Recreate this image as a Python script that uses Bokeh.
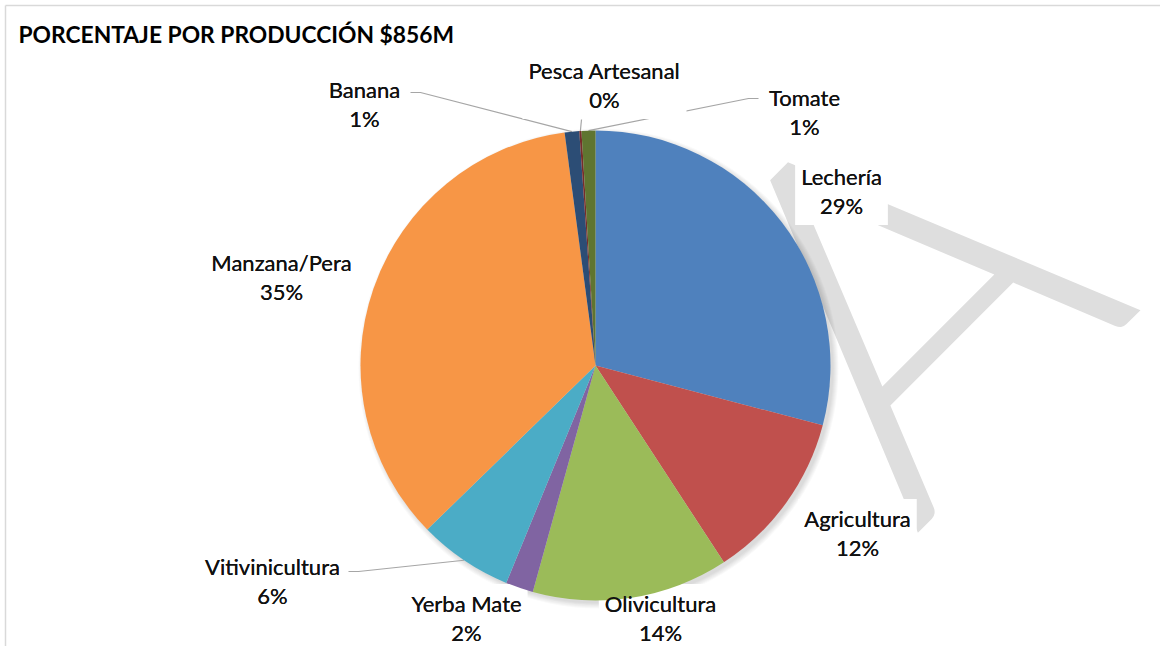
import math
from bokeh.plotting import figure
from bokeh.models import Range1d, ColumnDataSource
from bokeh.core.properties import value
from bokeh.embed import file_html
from bokeh.resources import INLINE

# ---------------- data ----------------
categories = ["Lechería", "Agricultura", "Olivicultura", "Yerba Mate",
              "Vitivinicultura", "Manzana/Pera", "Banana", "Pesca Artesanal", "Tomate"]
shares = [29.1, 11.7, 13.5, 1.9, 6.5, 35.2, 1.0, 0.15, 0.95]   # percent of $856M
colors = ["#4F81BD", "#C0504D", "#9BBB59", "#8064A2", "#4BACC6",
          "#F79646", "#2C4D75", "#772C2A", "#5F7530"]
title_text = "PORCENTAJE POR PRODUCCIÓN $856M"
watermark_text = "A"

# ---------------- layout (page pixel coordinates) ----------------
W, H = 1160, 646
REF_H = 662
CX, CY, R = 595, 365, 235
label_anchor = {  # baseline centre of the first label line
    "Lechería": (841, 185), "Agricultura": (857, 527), "Olivicultura": (660, 612),
    "Yerba Mate": (466, 612), "Vitivinicultura": (272, 575), "Manzana/Pera": (281, 271),
    "Banana": (364, 98), "Pesca Artesanal": (604, 79), "Tomate": (804, 106),
}
LINE_GAP = 28.5
LABEL_PX = 22
leader_start = {  # stub of the leader lines
    "Banana": [(410, 92), (420, 92)],
    "Pesca Artesanal": [(581, 119)],
    "Tomate": [(758, 98), (748, 98)],
    "Vitivinicultura": [(348, 571), (358, 571)],
}
FONT = "Lato"


def sy(y):
    return REF_H - y


p = figure(width=W, height=H, x_range=Range1d(0, W), y_range=Range1d(REF_H - H, REF_H),
           toolbar_location=None, output_backend="svg", min_border=0,
           x_axis_location=None, y_axis_location=None)
p.grid.visible = False
p.outline_line_color = None
p.background_fill_color = "white"
p.border_fill_color = "white"

# chart border (top and left edges)
p.segment(x0=[5, 5], y0=[sy(5), sy(5)], x1=[W, 5], y1=[sy(5), REF_H - H],
          line_color="#d9d9d9", line_width=1.5)

# watermark (single large rotated letter behind the chart)
p.text(x=[776], y=[sy(400)], text=[watermark_text], angle=math.pi / 4,
       text_align="left", text_baseline="alphabetic",
       text_font=value("Lato Light, Lato"), text_font_size="500px",
       text_color="#dedede")

# pie shadow
for k in range(6):
    p.circle(x=[CX + 3], y=[sy(CY + 3)], radius=R + k, fill_color="black",
             fill_alpha=0.025, line_color=None)

# pie geometry (clockwise from 12 o'clock)
total = sum(shares)
starts, ends, mids = [], [], []
cum = 0.0
for s in shares:
    a0 = cum / total * 2 * math.pi
    cum += s
    a1 = cum / total * 2 * math.pi
    starts.append(math.pi / 2 - a0)
    ends.append(math.pi / 2 - a1)
    mids.append((a0 + a1) / 2)

# leader lines
xs, ys = [], []
for cat, m in zip(categories, mids):
    if cat in leader_start:
        ex, ey = CX + R * math.sin(m), CY - R * math.cos(m)
        pts = leader_start[cat] + [(ex, ey)]
        xs.append([q[0] for q in pts])
        ys.append([sy(q[1]) for q in pts])
p.multi_line(xs=xs, ys=ys, line_color="#a6a6a6", line_width=1.2)

# data labels
lx, ly, lt = [], [], []
for cat, s in zip(categories, shares):
    ax, ay = label_anchor[cat]
    pct = round(s / total * 100)
    lx.append(ax)
    ly.append(sy(ay + 5.5))
    lt.append(f"{cat}\n{pct}%")
lab_src = ColumnDataSource(dict(x=lx, y=ly, text=lt))
label_kw = dict(x="x", y="y", text="text", source=lab_src, text_align="center",
                text_baseline="middle", text_font=value(FONT),
                text_font_size=f"{LABEL_PX}px", text_color="#111111",
                text_line_height=LINE_GAP / (LABEL_PX * 1.2))
p.text(background_fill_color="white", padding=6, **label_kw)

# pie wedges
src = ColumnDataSource(dict(cat=categories, share=shares, color=colors,
                            start=starts, end=ends))
p.wedge(x=CX, y=sy(CY), radius=R, start_angle="start", end_angle="end",
        direction="clock", fill_color="color", line_color=None, source=src)

# label text again on top of the pie
p.text(**label_kw)

# title
p.text(x=[18], y=[sy(33.5)], text=[title_text], text_align="left", text_baseline="alphabetic",
       text_font=value(FONT), text_font_style="bold", text_font_size="22.8px",
       text_color="black")

open("out.html", "w").write(file_html(p, INLINE))
